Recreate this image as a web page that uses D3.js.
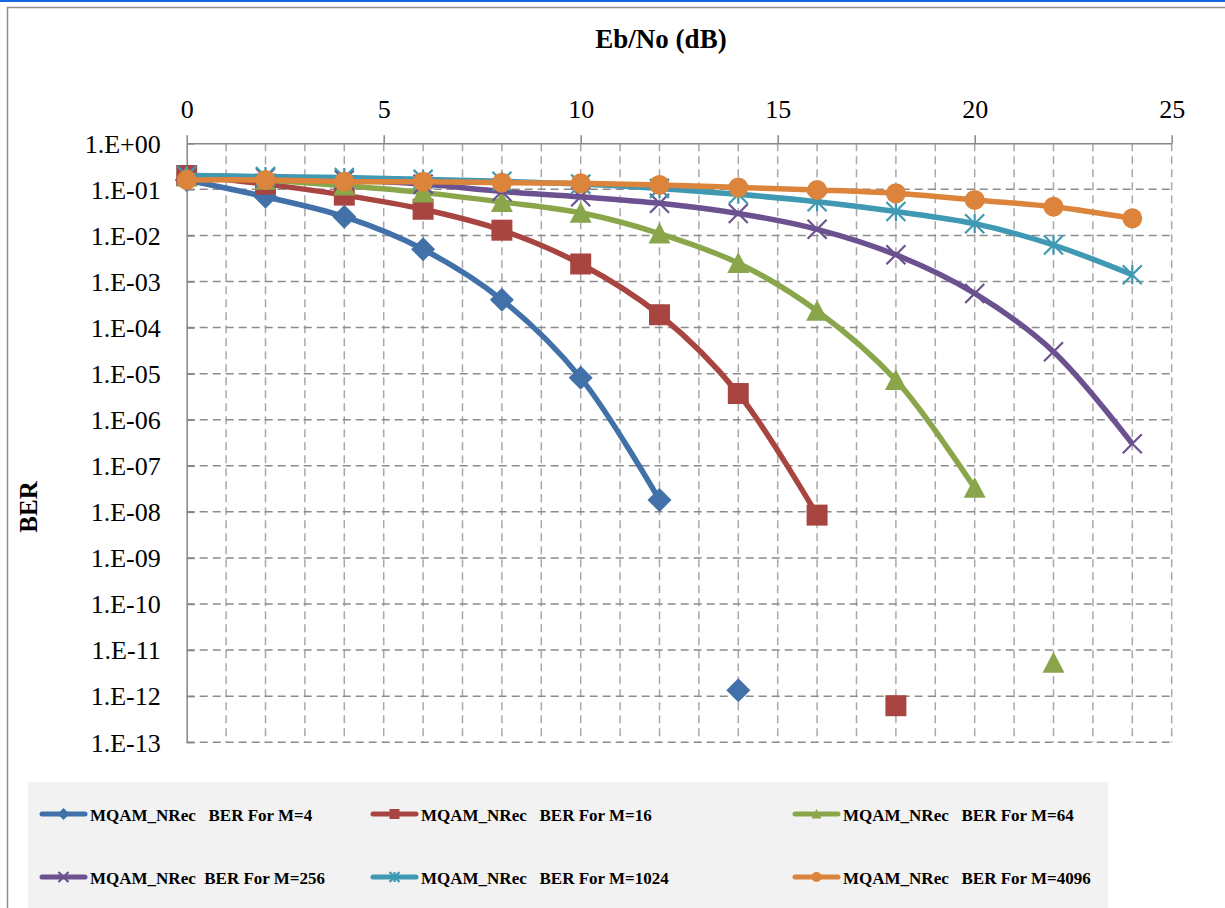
<!DOCTYPE html>
<html>
<head>
<meta charset="utf-8">
<script src="https://cdn.jsdelivr.net/npm/d3@7"></script>
<style>
  body { margin: 0; background: #fff; }
  svg { display: block; }
  text { font-family: "Liberation Serif", "Times New Roman", serif; fill: #000; }
</style>
</head>
<body>
<svg id="chart" width="1225" height="908"></svg>
<script>
// Eb/No points in dB
const ebno = [0, 2, 4, 6, 8, 10, 12, 14, 16, 18, 20, 22, 24];

// BER values (one list per modulation order)
const berM4    = [0.16, 0.069, 0.0255, 5.0e-3, 4.0e-4, 8.1e-6, 1.8e-8];
const berM16   = [0.2, 0.13, 0.075, 0.037, 0.013, 2.4e-3, 1.9e-4, 3.7e-6, 8.5e-9];
const berM64   = [0.19, 0.16, 0.12, 0.085, 0.053, 0.031, 0.011, 2.5e-3, 2.3e-4, 7.2e-6, 3.3e-8];
const berM256  = [0.2, 0.18, 0.16, 0.13, 0.09, 0.069, 0.05, 0.03, 0.0136, 3.8e-3, 5.5e-4, 3.0e-5, 3.0e-7];
const berM1024 = [0.2, 0.19, 0.18, 0.165, 0.15, 0.13, 0.105, 0.078, 0.054, 0.033, 0.018, 6.2e-3, 1.4e-3];
const berM4096 = [0.16, 0.16, 0.147, 0.147, 0.14, 0.135, 0.125, 0.11, 0.097, 0.082, 0.059, 0.042, 0.0235];

// stray markers that are not joined to their curve
const strayIndex = [0, 1, 2];
const strayEbno  = [14, 18, 22];
const strayBer   = [1.35e-12, 6.2e-13, 5.3e-12];

const seriesNames = [
    "MQAM_NRec   BER For M=4",
    "MQAM_NRec   BER For M=16",
    "MQAM_NRec   BER For M=64",
    "MQAM_NRec  BER For M=256",
    "MQAM_NRec   BER For M=1024",
    "MQAM_NRec   BER For M=4096"
];
const seriesValues = [berM4, berM16, berM64, berM256, berM1024, berM4096];
const seriesColors = ["#4271aa", "#a94541", "#8aa64b", "#6b5190", "#3f99b2", "#dc843c"];
const seriesMarkers = ["diamond", "square", "triangle", "cross", "star", "circle"];

const xTicks = [0, 5, 10, 15, 20, 25];
const yExponents = d3.range(0, -14, -1);

const svg = d3.select("#chart");

// frame
svg.append("line").attr("x1", 0).attr("x2", 1225).attr("y1", 1).attr("y2", 1)
    .attr("stroke", "#1666e2").attr("stroke-width", 2);
svg.append("path").attr("d", "M7.5,908V7.5H1225")
    .attr("fill", "none").attr("stroke", "#8e8e8e").attr("stroke-width", 1.5);

const x = d3.scaleLinear().domain([0, 25]).range([186.7, 1171.7]);
const y = d3.scaleLog().domain([1, 1e-13]).range([143.3, 742.2]);

// grid
const grid = svg.append("g");
grid.selectAll("line.v")
    .data(d3.range(1, 26))
    .join("line")
    .attr("class", "v")
    .attr("x1", d => x(d)).attr("x2", d => x(d))
    .attr("y1", y(1)).attr("y2", y(1e-13))
    .attr("stroke", "#a8a8a8").attr("stroke-width", 1.5)
    .attr("stroke-dasharray", "8,5");
grid.selectAll("line.h")
    .data(yExponents.slice(1))
    .join("line")
    .attr("class", "h")
    .attr("x1", x(0)).attr("x2", x(25))
    .attr("y1", d => y(Math.pow(10, d))).attr("y2", d => y(Math.pow(10, d)))
    .attr("stroke", "#8c8c8c").attr("stroke-width", 1.5)
    .attr("stroke-dasharray", "8,5");

// axes
const fmt = v => {
    let e = Math.round(Math.log10(v));
    return "1.E" + (e >= 0 ? "+" : "-") + String(Math.abs(e)).padStart(2, "0");
};

const xAxis = svg.append("g")
    .attr("transform", `translate(0,${y(1)})`)
    .call(d3.axisTop(x).tickValues(xTicks).tickSize(8).tickSizeOuter(0).tickPadding(17));
const yAxis = svg.append("g")
    .attr("transform", `translate(${x(0)},0)`)
    .call(d3.axisLeft(y).tickValues(yExponents.map(e => Math.pow(10, e)))
        .tickFormat(fmt).tickSizeInner(-8).tickSizeOuter(0).tickPadding(26));

[xAxis, yAxis].forEach(a => {
    a.select(".domain").attr("stroke", "#868686").attr("stroke-width", 1.5);
    a.selectAll(".tick line").attr("stroke", "#868686").attr("stroke-width", 1.5);
    a.selectAll(".tick text")
        .attr("font-family", "Liberation Serif")
        .attr("font-size", 26).attr("fill", "#000");
});
yAxis.selectAll(".tick text").attr("dy", "0.34em");

// titles
svg.append("text")
    .attr("x", 661).attr("y", 48)
    .attr("text-anchor", "middle")
    .attr("font-size", 27).attr("font-weight", "bold")
    .text("Eb/No (dB)");
svg.append("text")
    .attr("transform", "translate(37,507) rotate(-90)")
    .attr("text-anchor", "middle")
    .attr("font-size", 25).attr("font-weight", "bold")
    .text("BER");

// markers
function markerPath(type, s) {
    let h = s / 2;
    switch (type) {
        case "diamond":
            return `M0,${-h}L${h},0L0,${h}L${-h},0Z`;
        case "square":
            return `M${-h},${-h}H${h}V${h}H${-h}Z`;
        case "triangle":
            return `M0,${-h}L${h},${h * 0.9}L${-h},${h * 0.9}Z`;
        case "cross":
            return `M${-h},${-h}L${h},${h}M${-h},${h}L${h},${-h}`;
        case "star":
            return `M${-h},${-h}L${h},${h}M${-h},${h}L${h},${-h}M0,${-h}V${h}`;
        case "circle":
            return d3.symbol(d3.symbolCircle, Math.PI * h * h)();
    }
}
const markerSize = { diamond: 24, square: 21, triangle: 22, cross: 19, star: 19, circle: 20 };
const strokeOnly = t => t === "cross" || t === "star";

function drawMarker(g, type, color, px, py, s) {
    g.append("path")
        .attr("d", markerPath(type, s))
        .attr("transform", `translate(${px},${py})`)
        .attr("fill", strokeOnly(type) ? "none" : color)
        .attr("stroke", color)
        .attr("stroke-width", strokeOnly(type) ? 2.2 : 0);
}

const line = d3.line()
    .x(d => x(d[0]))
    .y(d => y(d[1]))
    .curve(d3.curveCatmullRom.alpha(0.5));

const plot = svg.append("g");
seriesValues.forEach((vals, i) => {
    let pts = vals.map((v, k) => [ebno[k], v]);
    let g = plot.append("g");
    g.append("path")
        .datum(pts)
        .attr("d", line)
        .attr("fill", "none")
        .attr("stroke", seriesColors[i])
        .attr("stroke-width", 5.5)
        .attr("stroke-linejoin", "round");
    pts.forEach(p => drawMarker(g, seriesMarkers[i], seriesColors[i], x(p[0]), y(p[1]), markerSize[seriesMarkers[i]]));
});

strayIndex.forEach((si, k) => {
    drawMarker(plot, seriesMarkers[si], seriesColors[si], x(strayEbno[k]), y(strayBer[k]), markerSize[seriesMarkers[si]]);
});

// legend
const legend = svg.append("g");
legend.append("rect")
    .attr("x", 28).attr("y", 782).attr("width", 1080).attr("height", 130)
    .attr("fill", "#f2f2f2");

const legendCols = [40, 371, 793];
const legendRows = [814, 877];
seriesNames.forEach((name, i) => {
    let lx = legendCols[i % 3], ly = legendRows[Math.floor(i / 3)];
    let g = legend.append("g");
    g.append("line")
        .attr("x1", lx + 2).attr("x2", lx + 45)
        .attr("y1", ly).attr("y2", ly)
        .attr("stroke", seriesColors[i]).attr("stroke-width", 5)
        .attr("stroke-linecap", "round");
    drawMarker(g, seriesMarkers[i], seriesColors[i], lx + 23.5, ly, seriesMarkers[i] === "diamond" ? 12 : 10);
    g.append("text")
        .attr("x", lx + 50).attr("y", ly + 7)
        .attr("font-size", 17).attr("font-weight", "bold")
        .style("white-space", "pre")
        .text(name);
});
</script>
</body>
</html>
